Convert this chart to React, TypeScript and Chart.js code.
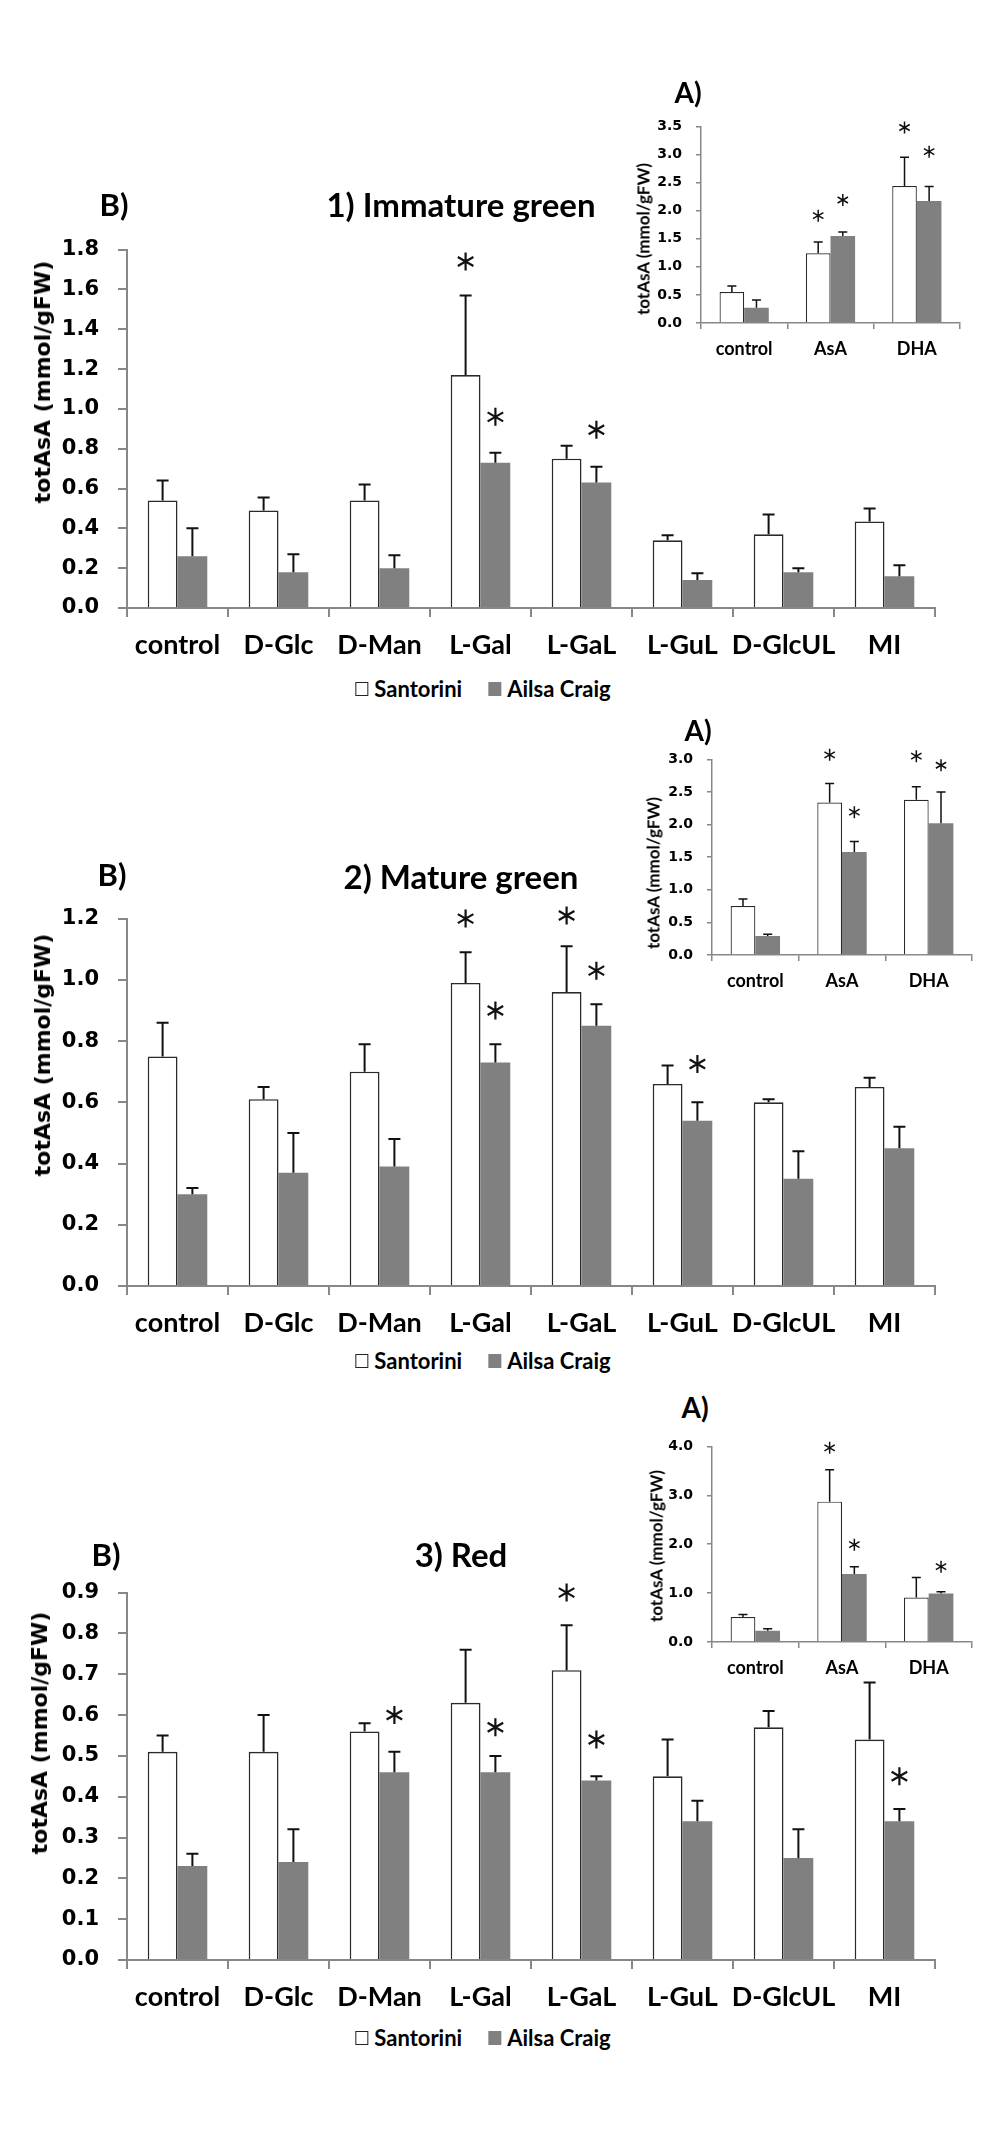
import React, { useEffect, useRef } from "react";
import { Chart, registerables } from "chart.js";

Chart.register(...registerables);

// ---------------- DATA ----------------
const mainCategories = ["control", "D-Glc", "D-Man", "L-Gal", "L-GaL", "L-GuL", "D-GlcUL", "MI"];
const insetCategories = ["control", "AsA", "DHA"];
const seriesNames = ["Santorini", "Ailsa Craig"];

// 1) Immature green (B)
const igSantorini = [0.54, 0.49, 0.54, 1.17, 0.75, 0.34, 0.37, 0.435];
const igSantoriniErr = [0.10, 0.065, 0.08, 0.40, 0.065, 0.025, 0.10, 0.065];
const igAilsa = [0.26, 0.18, 0.20, 0.73, 0.63, 0.14, 0.18, 0.16];
const igAilsaErr = [0.14, 0.09, 0.065, 0.05, 0.08, 0.035, 0.02, 0.055];
const igSantoriniStar = [null, null, null, 1.74, null, null, null, null];
const igAilsaStar = [null, null, null, 0.96, 0.895, null, null, null];
const igTicks = [0, 0.2, 0.4, 0.6, 0.8, 1.0, 1.2, 1.4, 1.6, 1.8];

// 1) Immature green (A, inset)
const igInSantorini = [0.55, 1.24, 2.44];
const igInSantoriniErr = [0.11, 0.20, 0.51];
const igInAilsa = [0.27, 1.55, 2.17];
const igInAilsaErr = [0.14, 0.07, 0.26];
const igInSantoriniStar = [null, 1.91, 3.48];
const igInAilsaStar = [null, 2.19, 3.05];
const igInTicks = [0, 0.5, 1.0, 1.5, 2.0, 2.5, 3.0, 3.5];

// 2) Mature green (B)
const mgSantorini = [0.75, 0.61, 0.70, 0.99, 0.96, 0.66, 0.60, 0.65];
const mgSantoriniErr = [0.11, 0.04, 0.09, 0.10, 0.15, 0.06, 0.01, 0.03];
const mgAilsa = [0.30, 0.37, 0.39, 0.73, 0.85, 0.54, 0.35, 0.45];
const mgAilsaErr = [0.02, 0.13, 0.09, 0.06, 0.07, 0.06, 0.09, 0.07];
const mgSantoriniStar = [null, null, null, 1.20, 1.21, null, null, null];
const mgAilsaStar = [null, null, null, 0.90, 1.03, 0.725, null, null];
const mgTicks = [0, 0.2, 0.4, 0.6, 0.8, 1.0, 1.2];

// 2) Mature green (A, inset)
const mgInSantorini = [0.75, 2.34, 2.38];
const mgInSantoriniErr = [0.11, 0.29, 0.20];
const mgInAilsa = [0.29, 1.58, 2.02];
const mgInAilsaErr = [0.03, 0.16, 0.48];
const mgInSantoriniStar = [null, 3.07, 3.05];
const mgInAilsaStar = [null, 2.19, 2.91];
const mgInTicks = [0, 0.5, 1.0, 1.5, 2.0, 2.5, 3.0];

// 3) Red (B)
const rdSantorini = [0.51, 0.51, 0.56, 0.63, 0.71, 0.45, 0.57, 0.54];
const rdSantoriniErr = [0.04, 0.09, 0.02, 0.13, 0.11, 0.09, 0.04, 0.14];
const rdAilsa = [0.23, 0.24, 0.46, 0.46, 0.44, 0.34, 0.25, 0.34];
const rdAilsaErr = [0.03, 0.08, 0.05, 0.04, 0.01, 0.05, 0.07, 0.03];
const rdSantoriniStar = [null, null, null, null, 0.90, null, null, null];
const rdAilsaStar = [null, null, 0.60, 0.57, 0.54, null, null, 0.45];
const rdTicks = [0, 0.1, 0.2, 0.3, 0.4, 0.5, 0.6, 0.7, 0.8, 0.9];

// 3) Red (A, inset)
const rdInSantorini = [0.51, 2.87, 0.91];
const rdInSantoriniErr = [0.05, 0.65, 0.41];
const rdInAilsa = [0.23, 1.39, 0.99];
const rdInAilsaErr = [0.04, 0.15, 0.04];
const rdInSantoriniStar = [null, 3.97, null];
const rdInAilsaStar = [null, 1.99, 1.54];
const rdInTicks = [0, 1.0, 2.0, 3.0, 4.0];

// ---------------- STYLE ----------------
const AXIS = "#878787";
const GREY = "#808080";
const LATO = "Lato, 'Open Sans', sans-serif";
const DEJAVU = "'DejaVu Sans', Verdana, sans-serif";

type Box = { left: number; top: number; width: number; height: number };
type Plot = { left: number; right: number; top: number; bottom: number };

const errStarPlugin = {
  id: "errStars",
  afterDatasetsDraw(chart: any, _args: any, opts: any) {
    const ctx = chart.ctx;
    const ys = chart.scales.y;
    chart.data.datasets.forEach((ds: any, i: number) => {
      const meta = chart.getDatasetMeta(i);
      meta.data.forEach((bar: any, j: number) => {
        const v = ds.data[j];
        const e = ds.errors[j];
        const yt = ys.getPixelForValue(v + e);
        ctx.save();
        ctx.strokeStyle = "#111";
        ctx.lineWidth = opts.errWidth;
        ctx.beginPath();
        ctx.moveTo(bar.x, bar.y);
        ctx.lineTo(bar.x, yt);
        ctx.moveTo(bar.x - opts.cap, yt);
        ctx.lineTo(bar.x + opts.cap, yt);
        ctx.stroke();
        const st = ds.stars[j];
        if (st !== null && st !== undefined) {
          const cy = ys.getPixelForValue(st);
          const r = opts.starR;
          ctx.lineWidth = opts.starW;
          ctx.beginPath();
          [90, 30, 150].forEach((deg) => {
            const a = (deg * Math.PI) / 180;
            ctx.moveTo(bar.x - r * Math.cos(a), cy - r * Math.sin(a));
            ctx.lineTo(bar.x + r * Math.cos(a), cy + r * Math.sin(a));
          });
          ctx.stroke();
        }
        ctx.restore();
      });
    });
  },
};

type BarProps = {
  categories: string[];
  s: number[]; sErr: number[]; sStar: (number | null)[];
  a: number[]; aErr: number[]; aStar: (number | null)[];
  ticks: number[];
  box: Box; plot: Plot; inset?: boolean;
};

function BarChart(p: BarProps) {
  const ref = useRef<HTMLCanvasElement | null>(null);
  useEffect(() => {
    if (!ref.current) return;
    const inset = !!p.inset;
    const catPct = inset ? 0.57 : 0.59;
    const tickFont = { family: DEJAVU, size: inset ? 14 : 21, weight: "bold" as const };
    const xFont = { family: LATO, size: inset ? 18 : 27, weight: "bold" as const };
    const axisW = inset ? 1.5 : 2;
    const chart = new Chart(ref.current, {
      type: "bar",
      data: {
        labels: p.categories,
        datasets: [
          {
            label: seriesNames[0], data: p.s, backgroundColor: "#ffffff", borderColor: "#2a2a2a",
            borderWidth: inset ? 1.2 : 1.6, borderSkipped: "bottom",
            categoryPercentage: catPct, barPercentage: 1,
            errors: p.sErr, stars: p.sStar,
          } as any,
          {
            label: seriesNames[1], data: p.a, backgroundColor: GREY, borderWidth: 0,
            categoryPercentage: catPct, barPercentage: 1,
            errors: p.aErr, stars: p.aStar,
          } as any,
        ],
      },
      options: {
        animation: false,
        responsive: false,
        maintainAspectRatio: false,
        events: [],
        layout: {
          padding: {
            left: 0,
            top: p.plot.top - p.box.top,
            right: p.box.left + p.box.width - p.plot.right,
            bottom: 0,
          },
        },
        plugins: {
          legend: { display: false },
          tooltip: { enabled: false },
          title: { display: false },
          errStars: {
            errWidth: inset ? 1.5 : 2,
            cap: inset ? 4.5 : 6,
            starR: inset ? 6 : 9,
            starW: inset ? 1.5 : 2.2,
          },
        } as any,
        scales: {
          x: {
            type: "category",
            offset: true,
            grid: {
              display: true, drawOnChartArea: false, drawTicks: true, offset: true,
              tickLength: inset ? 6 : 9, color: AXIS, lineWidth: axisW,
            },
            border: { display: true, color: AXIS, width: axisW },
            ticks: { color: "#000", font: xFont, padding: inset ? 9 : 12, autoSkip: false, maxRotation: 0, minRotation: 0 },
            afterFit: (sc: any) => { sc.height = p.box.top + p.box.height - p.plot.bottom; },
          },
          y: {
            type: "linear",
            min: p.ticks[0],
            max: p.ticks[p.ticks.length - 1],
            grid: {
              display: true, drawOnChartArea: false, drawTicks: true,
              tickLength: inset ? 5 : 9, color: AXIS, lineWidth: axisW,
            },
            border: { display: true, color: AXIS, width: axisW },
            ticks: {
              color: "#000", font: tickFont, padding: inset ? 14 : 19,
              callback: (v: any) => Number(v).toFixed(1),
            },
            afterBuildTicks: (sc: any) => { sc.ticks = p.ticks.map((v) => ({ value: v })); },
            afterFit: (sc: any) => { sc.width = p.plot.left - p.box.left; },
          },
        },
      },
      plugins: [errStarPlugin as any],
    });
    return () => chart.destroy();
  }, []);
  return (
    <canvas
      ref={ref}
      width={p.box.width}
      height={p.box.height}
      style={{ position: "absolute", left: p.box.left, top: p.box.top, width: p.box.width, height: p.box.height }}
    />
  );
}

function T(props: { x: number; y: number; text: string; font: string; size: number; weight?: string; rot?: boolean }) {
  return (
    <div
      style={{
        position: "absolute", left: props.x, top: props.y,
        transform: "translate(-50%, -50%)" + (props.rot ? " rotate(-90deg)" : ""),
        fontFamily: props.font, fontSize: props.size, fontWeight: (props.weight || "bold") as any,
        whiteSpace: "nowrap", lineHeight: 1, color: "#000",
      }}
    >
      {props.text}
    </div>
  );
}

function Legend(props: { x: number; y: number }) {
  const box = (fill: string, border: string) => (
    <span style={{ display: "inline-block", width: 13, height: 14, background: fill, border: border, boxSizing: "border-box", marginRight: 6 }} />
  );
  return (
    <div
      style={{
        position: "absolute", left: props.x, top: props.y, transform: "translate(-50%, -50%)",
        display: "flex", alignItems: "center", whiteSpace: "nowrap",
        fontFamily: LATO, fontWeight: "bold", fontSize: 22, lineHeight: 1, color: "#000",
      }}
    >
      {box("#fff", "1px solid #222")}
      <span>{seriesNames[0]}</span>
      <span style={{ display: "inline-block", width: 26 }} />
      {box(GREY, "none")}
      <span>{seriesNames[1]}</span>
    </div>
  );
}

export default function App() {
  return (
    <div style={{ position: "absolute", left: 0, top: 0, width: 1003, height: 2132, background: "#fff", overflow: "hidden" }}>
      {/* ---------- 1) Immature green ---------- */}
      <BarChart categories={mainCategories}
        s={igSantorini} sErr={igSantoriniErr} sStar={igSantoriniStar}
        a={igAilsa} aErr={igAilsaErr} aStar={igAilsaStar}
        ticks={igTicks}
        box={{ left: 0, top: 218, width: 1003, height: 450 }}
        plot={{ left: 127, right: 935, top: 243, bottom: 608 }} />
      <BarChart categories={insetCategories} inset
        s={igInSantorini} sErr={igInSantoriniErr} sStar={igInSantoriniStar}
        a={igInAilsa} aErr={igInAilsaErr} aStar={igInAilsaStar}
        ticks={igInTicks}
        box={{ left: 600, top: 104, width: 403, height: 259 }}
        plot={{ left: 701, right: 960, top: 124, bottom: 323 }} />
      <T x={114} y={204} text="B)" font={LATO} size={31} />
      <T x={461} y={204} text="1) Immature green" font={LATO} size={33} />
      <T x={43} y={382} text="totAsA (mmol/gFW)" font={DEJAVU} size={22} rot />
      <T x={688} y={92} text="A)" font={LATO} size={28} />
      <T x={643} y={239} text="totAsA (mmol/gFW)" font={LATO} size={17} rot />
      <Legend x={483} y={689} />

      {/* ---------- 2) Mature green ---------- */}
      <BarChart categories={mainCategories}
        s={mgSantorini} sErr={mgSantoriniErr} sStar={mgSantoriniStar}
        a={mgAilsa} aErr={mgAilsaErr} aStar={mgAilsaStar}
        ticks={mgTicks}
        box={{ left: 0, top: 887, width: 1003, height: 459 }}
        plot={{ left: 127, right: 935, top: 912, bottom: 1286 }} />
      <BarChart categories={insetCategories} inset
        s={mgInSantorini} sErr={mgInSantoriniErr} sStar={mgInSantoriniStar}
        a={mgInAilsa} aErr={mgInAilsaErr} aStar={mgInAilsaStar}
        ticks={mgInTicks}
        box={{ left: 600, top: 737, width: 403, height: 258 }}
        plot={{ left: 712, right: 972, top: 757, bottom: 955 }} />
      <T x={112} y={874} text="B)" font={LATO} size={31} />
      <T x={461} y={876} text="2) Mature green" font={LATO} size={33} />
      <T x={43} y={1055} text="totAsA (mmol/gFW)" font={DEJAVU} size={22} rot />
      <T x={698} y={730} text="A)" font={LATO} size={28} />
      <T x={653} y={873} text="totAsA (mmol/gFW)" font={LATO} size={17} rot />
      <Legend x={483} y={1361} />

      {/* ---------- 3) Red ---------- */}
      <BarChart categories={mainCategories}
        s={rdSantorini} sErr={rdSantoriniErr} sStar={rdSantoriniStar}
        a={rdAilsa} aErr={rdAilsaErr} aStar={rdAilsaStar}
        ticks={rdTicks}
        box={{ left: 0, top: 1561, width: 1003, height: 459 }}
        plot={{ left: 127, right: 935, top: 1586, bottom: 1960 }} />
      <BarChart categories={insetCategories} inset
        s={rdInSantorini} sErr={rdInSantoriniErr} sStar={rdInSantoriniStar}
        a={rdInAilsa} aErr={rdInAilsaErr} aStar={rdInAilsaStar}
        ticks={rdInTicks}
        box={{ left: 600, top: 1424, width: 403, height: 258 }}
        plot={{ left: 712, right: 972, top: 1444, bottom: 1642 }} />
      <T x={106} y={1554} text="B)" font={LATO} size={31} />
      <T x={461} y={1554} text="3) Red" font={LATO} size={33} />
      <T x={40} y={1733} text="totAsA (mmol/gFW)" font={DEJAVU} size={22} rot />
      <T x={695} y={1407} text="A)" font={LATO} size={28} />
      <T x={656} y={1546} text="totAsA (mmol/gFW)" font={LATO} size={17} rot />
      <Legend x={483} y={2038} />
    </div>
  );
}
